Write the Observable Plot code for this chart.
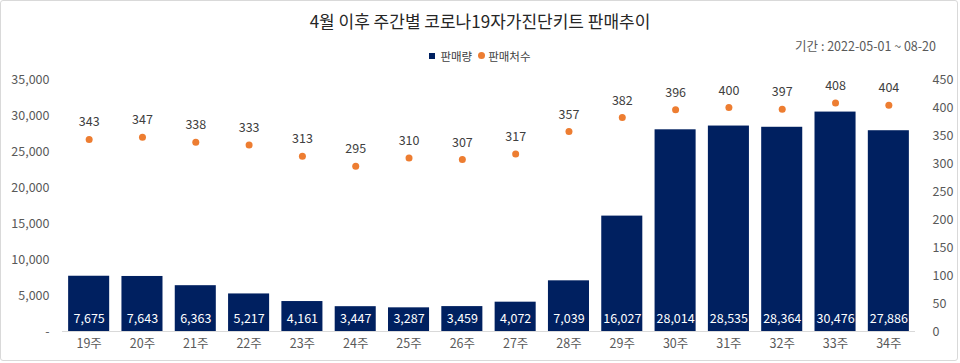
<!DOCTYPE html>
<html><head><meta charset="utf-8">
<script src="https://cdn.jsdelivr.net/npm/d3@7"></script>
<script src="https://cdn.jsdelivr.net/npm/@observablehq/plot@0.6"></script>
<style>
body{margin:0;background:#fff;font-family:"Noto Sans CJK KR","Noto Sans",sans-serif;}
#wrap{position:relative;width:960px;height:363px;overflow:hidden;}
#frame{position:absolute;left:0;top:0;width:956px;height:359px;border:1px solid #d9d9d9;border-radius:3px;pointer-events:none;}
#title{position:absolute;left:0;width:960px;top:8px;text-align:center;font-size:17px;color:#262626;}
#sub{position:absolute;right:24px;top:36px;font-size:12.5px;color:#595959;}
#legend{position:absolute;left:0;width:960px;top:46px;text-align:center;font-size:11.5px;color:#404040;}
#legend span{display:inline-flex;align-items:center;margin:0 3px;}
.sq{display:inline-block;width:6px;height:6px;background:#002060;margin-right:5px;}
.dt{display:inline-block;width:7px;height:7px;border-radius:50%;background:#ED7D31;margin-right:3px;}
#chart{position:absolute;left:0;top:0;}
</style></head>
<body>
<div id="wrap">
<div id="chart"></div>
<div id="title">4월 이후 주간별 코로나19자가진단키트 판매추이</div>
<div id="sub">기간 : 2022-05-01 ~ 08-20</div>
<div id="legend"><span><i class="sq"></i>판매량</span><span><i class="dt"></i>판매처수</span></div>
<div id="frame"></div>
</div>
<script>
const weeks = ["19주","20주","21주","22주","23주","24주","25주","26주","27주","28주","29주","30주","31주","32주","33주","34주"];
const sales = [7675,7643,6363,5217,4161,3447,3287,3459,4072,7039,16027,28014,28535,28364,30476,27886];
const stores = [343,347,338,333,313,295,310,307,317,357,382,396,400,397,408,404];
const leftTicks = [0,5000,10000,15000,20000,25000,30000,35000];
const rightTicks = [0,50,100,150,200,250,300,350,400,450];

const LMAX = 35000, RMAX = 450;
const k = LMAX / RMAX;
const data = weeks.map((w,i)=>({week:w, sales:sales[i], stores:stores[i], storesScaled:stores[i]*k}));
const fmt = d3.format(",");

const chart = Plot.plot({
  width:960, height:363,
  marginLeft:62, marginRight:45, marginTop:79, marginBottom:32,
  style:{fontFamily:'"Noto Sans CJK KR","Noto Sans",sans-serif', fontSize:"12px", color:"#595959", background:"transparent"},
  x:{domain:weeks, paddingInner:0.23, paddingOuter:0.115, round:false, label:null},
  y:{domain:[0,LMAX], label:null},
  marks:[
    Plot.barY(data,{x:"week", y:"sales", fill:"#002060"}),
    Plot.ruleY([0],{stroke:"#d9d9d9"}),
    Plot.axisX({tickSize:0, tickPadding:8, fontSize:12.5, fill:"#595959", label:null}),
    Plot.axisY({ticks:leftTicks, tickSize:0, tickPadding:13, fontSize:12.5, fill:"#595959", label:null,
      tickFormat:d=> d===0 ? "-" : fmt(d)}),
    Plot.axisY({anchor:"right", ticks:rightTicks.map(v=>v*k), tickSize:0, tickPadding:17, fontSize:12.5, fill:"#595959", label:null, textAnchor:"start",
      tickFormat:d=> String(Math.round(d/k))}),
    Plot.text(data,{x:"week", y:0, text:d=>fmt(d.sales), dy:-13, fill:"white", fontSize:12.5}),
    Plot.dot(data,{x:"week", y:"storesScaled", r:3.5, fill:"#ED7D31", stroke:"none"}),
    Plot.text(data,{x:"week", y:"storesScaled", text:d=>String(d.stores), dy:-17, fill:"#404040", fontSize:12.5})
  ]
});
document.getElementById("chart").appendChild(chart);
</script>
</body></html>
